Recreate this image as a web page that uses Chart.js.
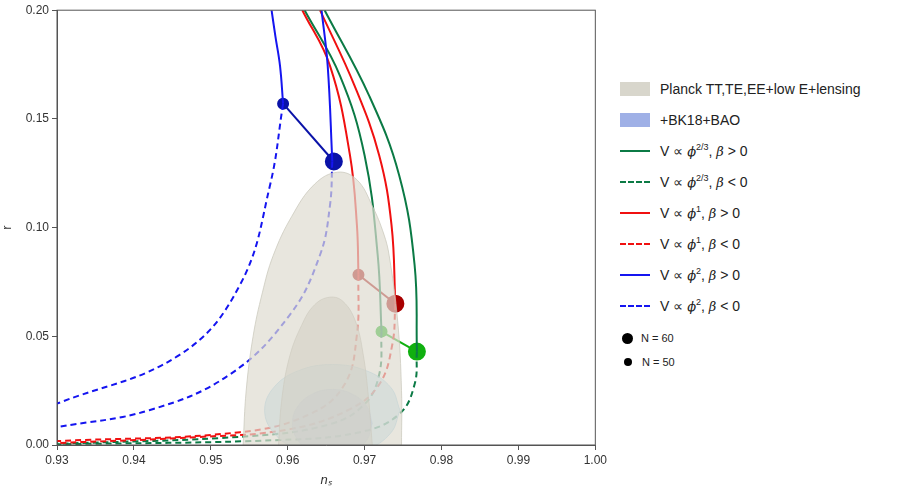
<!DOCTYPE html>
<html lang="en">
  <head>
    <meta charset="UTF-8" />
    <title>r vs ns</title>
    <script src="https://cdn.jsdelivr.net/npm/chart.js"></script>
    <style>
      body { margin: 0; background: #fff; font-family: 'Liberation Sans', Arial, sans-serif; }
      #wrap { position: absolute; left: 0; top: 0; width: 610px; height: 488px; }
      #legend { position: absolute; left: 620px; top: 73px; font-size: 14px; color: #222; }
      .row { display: flex; align-items: center; height: 31px; white-space: pre; }
      .sw { width: 30px; margin-right: 10px; flex: none; }
      .box { height: 14px; }
      .ln { height: 0; }
      .dot { border-radius: 50%; background: #000; margin: 0 8px 0 2px; flex: none; }
      i { font-family: 'DejaVu Serif', serif; font-size: 13px; }
      sup { font-size: 9px; }
    </style>
  </head>
  <body>
    <div id="wrap"><canvas id="c" width="610" height="488"></canvas></div>
    <div id="legend">
      <div class="row"><div class="sw box" style="background:#d8d6cc"></div><span>Planck TT,TE,EE+low E+lensing</span></div>
      <div class="row"><div class="sw box" style="background:#9fb0e6"></div><span>+BK18+BAO</span></div>
      <div class="row"><div class="sw ln" style="border-top:2.5px solid #0b7a45"></div><span>V ∝ <i>ϕ</i><sup>2/3</sup>, <i>β</i> &gt; 0</span></div>
      <div class="row"><div class="sw ln" style="border-top:2.5px dashed #0b7a45"></div><span>V ∝ <i>ϕ</i><sup>2/3</sup>, <i>β</i> &lt; 0</span></div>
      <div class="row"><div class="sw ln" style="border-top:2.5px solid #f01010"></div><span>V ∝ <i>ϕ</i><sup>1</sup>, <i>β</i> &gt; 0</span></div>
      <div class="row"><div class="sw ln" style="border-top:2.5px dashed #f01010"></div><span>V ∝ <i>ϕ</i><sup>1</sup>, <i>β</i> &lt; 0</span></div>
      <div class="row"><div class="sw ln" style="border-top:2.5px solid #1515f0"></div><span>V ∝ <i>ϕ</i><sup>2</sup>, <i>β</i> &gt; 0</span></div>
      <div class="row"><div class="sw ln" style="border-top:2.5px dashed #1515f0"></div><span>V ∝ <i>ϕ</i><sup>2</sup>, <i>β</i> &lt; 0</span></div>
      <div class="row" style="font-size:11px;height:26px;margin-top:4px"><div class="dot" style="width:11px;height:11px"></div><span>N = 60</span></div>
      <div class="row" style="font-size:11px;height:22px"><div class="dot" style="width:8px;height:8px;margin-left:4px;margin-right:10px"></div><span>N = 50</span></div>
    </div>
    <script>
      // contours
      const planckOuterX = [0.9542, 0.9546, 0.9555, 0.9567, 0.9581, 0.9605, 0.9635, 0.9665, 0.969, 0.971, 0.9725, 0.9732, 0.9743, 0.9748, 0.9748]
      const planckOuterY = [0, 0.025, 0.05, 0.07, 0.087, 0.105, 0.12, 0.1255, 0.122, 0.11, 0.097, 0.087, 0.057, 0.025, 0]
      const planckInnerX = [0.9588, 0.9592, 0.9602, 0.9618, 0.9635, 0.9655, 0.9672, 0.9688, 0.9698, 0.9705, 0.971]
      const planckInnerY = [0, 0.02, 0.04, 0.055, 0.0645, 0.068, 0.066, 0.057, 0.042, 0.022, 0]
      const bkOuterX = [0.9746, 0.9734, 0.9702, 0.9658, 0.9614, 0.9582, 0.957, 0.9582, 0.9614, 0.9658, 0.9702, 0.9734, 0.9746]
      const bkOuterY = [0.016, 0.0265, 0.0342, 0.037, 0.0342, 0.0265, 0.016, 0.0055, -0.0022, -0.005, -0.0022, 0.0055, 0.016]
      const bkInnerX = [0.971, 0.9703, 0.9684, 0.9658, 0.9632, 0.9613, 0.9606, 0.9613, 0.9632, 0.9658, 0.9684, 0.9703, 0.971]
      const bkInnerY = [0.01, 0.0178, 0.0235, 0.0256, 0.0235, 0.0178, 0.01, 0.0022, -0.0035, -0.0056, -0.0035, 0.0022, 0.01]

      // phi^2
      const blueSolidAX = [0.9579, 0.9584, 0.959, 0.9594]
      const blueSolidAY = [0.2, 0.188, 0.1744, 0.157]
      const blueSolidBX = [0.9644, 0.9652, 0.9658]
      const blueSolidBY = [0.2, 0.1744, 0.1304]
      const blueDashAX = [0.9594, 0.9577, 0.9538, 0.946, 0.93]
      const blueDashAY = [0.157, 0.1195, 0.0737, 0.0416, 0.019]
      const blueDashBX = [0.9658, 0.9655, 0.9642, 0.9603, 0.9525, 0.942, 0.93]
      const blueDashBY = [0.1304, 0.1103, 0.0874, 0.06, 0.0325, 0.016, 0.0082]
      // phi^1
      const redSolidAX = [0.9619, 0.9655, 0.9681, 0.969, 0.9692]
      const redSolidAY = [0.2, 0.1744, 0.1332, 0.1011, 0.0783]
      const redSolidBX = [0.9642, 0.9687, 0.9719, 0.9735, 0.974]
      const redSolidBY = [0.2, 0.1652, 0.1332, 0.1011, 0.065]
      const redDashAX = [0.9692, 0.969, 0.9674, 0.9629, 0.9538, 0.93]
      const redDashAY = [0.0783, 0.0508, 0.0279, 0.0142, 0.0059, 0.0018]
      const redDashBX = [0.974, 0.9736, 0.9719, 0.9681, 0.9603, 0.9486, 0.93]
      const redDashBY = [0.065, 0.0462, 0.0279, 0.0165, 0.0073, 0.0037, 0.0009]
      // phi^(2/3)
      const greenSolidAX = [0.9622, 0.9668, 0.97, 0.9717, 0.9722]
      const greenSolidAY = [0.2, 0.1698, 0.1332, 0.0874, 0.0522]
      const greenSolidBX = [0.9648, 0.9706, 0.9745, 0.9765, 0.9768]
      const greenSolidBY = [0.2, 0.1606, 0.124, 0.0828, 0.043]
      const greenDashAX = [0.9722, 0.9719, 0.97, 0.9655, 0.9551, 0.93]
      const greenDashAY = [0.0522, 0.0325, 0.0188, 0.0096, 0.0041, 0.0005]
      const greenDashBX = [0.9768, 0.9765, 0.9745, 0.9694, 0.959, 0.93]
      const greenDashBY = [0.043, 0.0279, 0.0142, 0.0059, 0.0023, 0.0003]

      // N = 50, N = 60 markers
      const blueNX = [0.9594, 0.966], blueNY = [0.157, 0.1304]
      const redNX = [0.9692, 0.974], redNY = [0.0783, 0.065]
      const greenNX = [0.9722, 0.9768], greenNY = [0.0522, 0.043]

      const xTicks = [0.93, 0.94, 0.95, 0.96, 0.97, 0.98, 0.99, 1.0]
      const yTicks = [0, 0.05, 0.1, 0.15, 0.2]

      const pts = (xs, ys) => xs.map((x, i) => ({ x, y: ys[i] }))

      function region(xs, ys, bg, border) {
        return { data: pts(xs, ys), showLine: true, fill: 'shape', backgroundColor: bg,
          borderColor: border, borderWidth: 1, pointRadius: 0, tension: 0.4 }
      }
      function curve(xs, ys, color, dashed) {
        return { data: pts(xs, ys), showLine: true, fill: false, borderColor: color,
          borderWidth: 2, borderDash: dashed ? [6, 4] : [], pointRadius: 0, tension: 0.4 }
      }
      function markers(xs, ys, color) {
        return { data: pts(xs, ys), showLine: true, borderColor: color, backgroundColor: color,
          borderWidth: 2, pointRadius: [5, 8], tension: 0 }
      }

      const frame = {
        id: 'frame',
        afterDraw(chart) {
          const a = chart.chartArea, ctx = chart.ctx
          ctx.save(); ctx.strokeStyle = '#555'; ctx.lineWidth = 1
          ctx.strokeRect(a.left, a.top, a.right - a.left, a.bottom - a.top); ctx.restore()
        }
      }

      new Chart(document.getElementById('c'), {
        type: 'scatter',
        data: {
          datasets: [
            region(planckOuterX, planckOuterY, 'rgba(222,220,208,0.7)', 'rgba(200,198,185,0.7)'),
            region(planckInnerX, planckInnerY, 'rgba(185,180,165,0.55)', 'rgba(160,156,145,0.6)'),
            region(bkOuterX, bkOuterY, 'rgba(150,205,230,0.5)', 'rgba(130,190,225,0.6)'),
            region(bkInnerX, bkInnerY, 'rgba(120,135,225,0.55)', 'rgba(120,135,225,0.4)'),
            curve(blueSolidAX, blueSolidAY, '#1515f0', false),
            curve(blueSolidBX, blueSolidBY, '#1515f0', false),
            curve(blueDashAX, blueDashAY, '#1515f0', true),
            curve(blueDashBX, blueDashBY, '#1515f0', true),
            curve(redSolidAX, redSolidAY, '#f01010', false),
            curve(redSolidBX, redSolidBY, '#f01010', false),
            curve(redDashAX, redDashAY, '#f01010', true),
            curve(redDashBX, redDashBY, '#f01010', true),
            curve(greenSolidAX, greenSolidAY, '#0b7a45', false),
            curve(greenSolidBX, greenSolidBY, '#0b7a45', false),
            curve(greenDashAX, greenDashAY, '#0b7a45', true),
            curve(greenDashBX, greenDashBY, '#0b7a45', true),
            markers(blueNX, blueNY, '#0a12a8'),
            markers(redNX, redNY, '#a80000'),
            markers(greenNX, greenNY, '#10b010'),
          ],
        },
        options: {
          responsive: false,
          animation: false,
          layout: { padding: { top: 4, right: 14 } },
          plugins: { legend: { display: false }, tooltip: { enabled: false } },
          scales: {
            x: {
              min: 0.93, max: 1.0,
              afterBuildTicks: s => { s.ticks = xTicks.map(v => ({ value: v })) },
              afterFit: s => { s.height = 43 },
              grid: { drawOnChartArea: false, tickLength: 5, color: '#555' },
              border: { color: '#555' },
              ticks: { callback: v => v.toFixed(2), color: '#333', font: { size: 12 } },
              title: { display: true, text: 'nₛ', color: '#333', font: { size: 13, style: 'italic' }, padding: 0 },
            },
            y: {
              min: 0, max: 0.2,
              afterBuildTicks: s => { s.ticks = yTicks.map(v => ({ value: v })) },
              afterFit: s => { s.width = 57 },
              grid: { drawOnChartArea: false, tickLength: 5, color: '#555' },
              border: { color: '#555' },
              ticks: { callback: v => v.toFixed(2), color: '#333', font: { size: 12 } },
              title: { display: true, text: 'r', color: '#333', font: { size: 13 }, padding: 0 },
            },
          },
        },
        plugins: [frame],
      })
    </script>
  </body>
</html>
